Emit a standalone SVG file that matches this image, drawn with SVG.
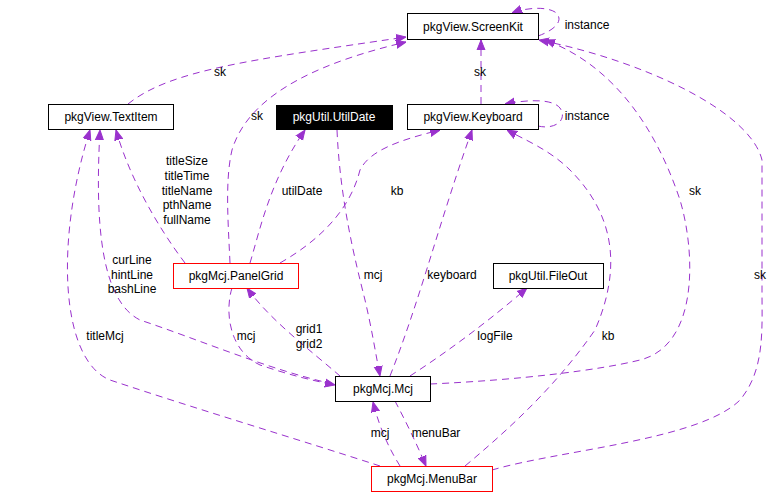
<svg xmlns="http://www.w3.org/2000/svg" width="771" height="497" viewBox="0 0 771 497">
<style>
text{font-family:"Liberation Sans",Arial,sans-serif;font-size:12px;fill:#000}
.n rect{fill:#fff;stroke:#000;stroke-width:1}
.r rect{stroke:#f00}
.e path{fill:none;stroke:#9a32cd;stroke-width:1;stroke-dasharray:7,5}
.m text{text-anchor:middle}
</style>
<defs>
<marker id="a" viewBox="0 0 10 10" refX="10" refY="5" markerWidth="10" markerHeight="10" markerUnits="userSpaceOnUse" orient="auto">
<path d="M0,1 L10,5 L0,9 z" fill="#9a32cd" stroke="#9a32cd"/>
</marker>
</defs>
<rect width="771" height="497" fill="#fff"/>
<g class="e">
<path marker-end="url(#a)" d="M128,104 C170,70 250,60 406,37"/>
<path marker-end="url(#a)" d="M230,263 C228,220 225,180 232,150 C250,90 330,60 406,42"/>
<path marker-end="url(#a)" d="M538,36 C555,30 565,20 555,12 C545,6 525,8 512,13"/>
<path marker-end="url(#a)" d="M481,104 L481,40"/>
<path marker-end="url(#a)" d="M538,126 C555,130 568,120 560,108 C552,98 525,100 505,104"/>
<path marker-end="url(#a)" d="M430,384 C520,380 600,370 640,360 C700,345 695,250 680,200 C650,110 600,60 545,40"/>
<path marker-end="url(#a)" d="M492,470 C560,450 700,440 740,400 C765,370 762,330 762,290 L762,160 C750,110 640,60 539,40"/>
<path marker-end="url(#a)" d="M185,263 C160,230 130,180 116,130"/>
<path marker-end="url(#a)" d="M333,384 C270,370 200,340 140,320 C100,300 95,220 100,130"/>
<path marker-end="url(#a)" d="M380,466 C300,440 200,410 110,380 C60,360 55,240 90,130"/>
<path marker-end="url(#a)" d="M250,263 C260,230 270,180 305,130"/>
<path marker-end="url(#a)" d="M280,263 C320,240 350,210 360,170 C370,150 400,140 440,130"/>
<path marker-end="url(#a)" d="M337,130 C340,200 355,260 365,300 C372,330 375,350 380,376"/>
<path marker-end="url(#a)" d="M390,376 C420,300 440,220 472,130"/>
<path marker-end="url(#a)" d="M410,376 C450,350 490,320 527,288"/>
<path marker-end="url(#a)" d="M465,466 C520,420 560,380 595,330 C630,250 600,200 570,170 C550,150 525,140 507,130"/>
<path marker-end="url(#a)" d="M232,288 C225,310 228,350 260,365 C290,375 310,380 335,385"/>
<path marker-end="url(#a)" d="M340,376 C310,350 270,320 247,288"/>
<path marker-end="url(#a)" d="M400,466 C390,450 380,430 373,402"/>
<path marker-end="url(#a)" d="M395,401 C405,420 415,440 426,466"/>
</g>
<g class="e m">
<text x="220" y="76">sk</text>
<text x="257" y="120">sk</text>
<text x="587" y="29">instance</text>
<text x="480" y="76">sk</text>
<text x="587" y="120">instance</text>
<text x="695" y="195">sk</text>
<text x="760" y="279">sk</text>
<text x="187" y="165">titleSize</text>
<text x="187" y="180">titleTime</text>
<text x="187" y="195">titleName</text>
<text x="187" y="209">pthName</text>
<text x="187" y="224">fullName</text>
<text x="132" y="264">curLine</text>
<text x="132" y="279">hintLine</text>
<text x="132" y="293">bashLine</text>
<text x="105" y="340">titleMcj</text>
<text x="302" y="195">utilDate</text>
<text x="397" y="195">kb</text>
<text x="373" y="279">mcj</text>
<text x="452" y="279">keyboard</text>
<text x="495" y="340">logFile</text>
<text x="608" y="340">kb</text>
<text x="246" y="340">mcj</text>
<text x="309" y="333">grid1</text>
<text x="309" y="348">grid2</text>
<text x="380" y="437">mcj</text>
<text x="436" y="437">menuBar</text>
</g>
<g id="ScreenKit" class="n m"><rect x="407.5" y="13.5" width="131" height="26"/><text x="473" y="31">pkgView.ScreenKit</text></g>
<g id="TextItem" class="n m"><rect x="48.5" y="104.5" width="125" height="25"/><text x="111" y="121">pkgView.TextItem</text></g>
<g id="UtilDate" class="n m"><rect x="276.5" y="105.5" width="116" height="24" style="fill:#000"/><text x="334" y="121" style="fill:#fff">pkgUtil.UtilDate</text></g>
<g id="Keyboard" class="n m"><rect x="407.5" y="104.5" width="131" height="25"/><text x="473" y="121">pkgView.Keyboard</text></g>
<g id="PanelGrid" class="n r m"><rect x="173.5" y="263.5" width="125" height="25"/><text x="236" y="280">pkgMcj.PanelGrid</text></g>
<g id="FileOut" class="n m"><rect x="493.5" y="263.5" width="110" height="25"/><text x="548" y="280">pkgUtil.FileOut</text></g>
<g id="Mcj" class="n m"><rect x="335.5" y="376.5" width="95" height="25"/><text x="383" y="393">pkgMcj.Mcj</text></g>
<g id="MenuBar" class="n r m"><rect x="371.5" y="466.5" width="121" height="25"/><text x="432" y="483">pkgMcj.MenuBar</text></g>
</svg>
